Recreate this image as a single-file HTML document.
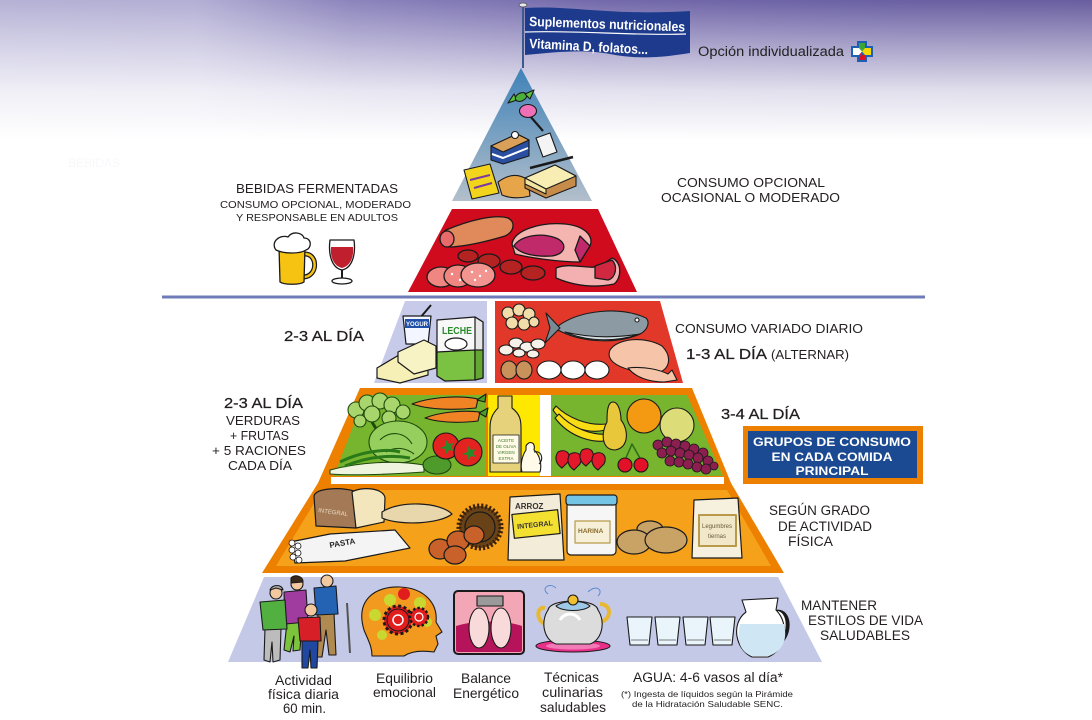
<!DOCTYPE html>
<html><head><meta charset="utf-8">
<style>
html,body{margin:0;padding:0;background:#fff;}
svg{display:block;}
text{font-family:"Liberation Sans",Arial,sans-serif;}
</style></head><body>
<svg width="1092" height="720" viewBox="0 0 1092 720" xmlns="http://www.w3.org/2000/svg">
<defs>
<linearGradient id="bgH" x1="0" x2="1" y1="0" y2="0">
 <stop offset="0" stop-color="#b5b1d5"/>
 <stop offset="0.18" stop-color="#b3aed4"/>
 <stop offset="0.32" stop-color="#8c84bc"/>
 <stop offset="0.55" stop-color="#7369ab"/>
 <stop offset="0.8" stop-color="#6a60a3"/>
 <stop offset="1" stop-color="#695e9f"/>
</linearGradient>
<linearGradient id="bgV" x1="0" x2="0" y1="0" y2="1">
 <stop offset="0" stop-color="#fff" stop-opacity="0"/>
 <stop offset="0.35" stop-color="#fff" stop-opacity="0.45"/>
 <stop offset="0.65" stop-color="#fff" stop-opacity="0.8"/>
 <stop offset="1" stop-color="#fff" stop-opacity="1"/>
</linearGradient>
<linearGradient id="tri" x1="0" x2="0" y1="0" y2="1">
 <stop offset="0" stop-color="#3f82b8"/>
 <stop offset="1" stop-color="#b3bfcb"/>
</linearGradient>
</defs>

<rect width="1092" height="720" fill="#fff"/>
<rect width="1092" height="140" fill="url(#bgH)"/>
<rect width="1092" height="140" fill="url(#bgV)"/>
<text x="68" y="167" font-size="12" fill="#f8f8fb">BEBIDAS</text>

<!-- ===== Pyramid shapes ===== -->
<polygon points="521,68 592,201 452,201" fill="url(#tri)"/>
<polygon points="452,209 598,209 637,292 408,292" fill="#cf0b1d"/>
<line x1="162" y1="297" x2="925" y2="297" stroke="#6f7cb9" stroke-width="3"/>
<polygon points="405,301 487,301 487,383 374,383" fill="#c7cbe9"/>
<polygon points="495,301 660,301 683,383 495,383" fill="#e1382a"/>
<polygon points="360,388 692,388 731,483 318,483" fill="#ee8000"/>
<polygon points="318,483 731,483 784,573 262,573" fill="#ee8000"/>
<rect x="331" y="477" width="393" height="7" fill="#fff"/>
<polygon points="365,395 485,395 485,476 334,476" fill="#77b52f"/>
<rect x="488" y="395" width="52" height="81" fill="#ffe800"/>
<rect x="540" y="395" width="11" height="81" fill="#fff"/>
<polygon points="551,395 687,395 723,476 551,476" fill="#77b52f"/>
<polygon points="322,490 727,490 771,566 276,566" fill="#f6a11a"/>
<polygon points="264,577 778,577 822,662 228,662" fill="#c5c9e8"/>

<!-- ===== Flag ===== -->
<line x1="523" y1="6" x2="523" y2="68" stroke="#3b5b8c" stroke-width="2"/>
<ellipse cx="523" cy="5" rx="4" ry="2" fill="#e8e8f0" stroke="#555" stroke-width="0.8"/>
<path d="M525,8 C570,5 610,16 690,11 L690,53 C665,57 640,60 610,54 C585,49 555,52 525,55 Z" fill="#1d3a8c"/>
<path d="M525,32 C580,30 630,36 686,34" fill="none" stroke="#fff" stroke-width="1.2"/>
<text x="529" y="26" font-size="13.5" font-weight="bold" fill="#fff" textLength="156" lengthAdjust="spacingAndGlyphs" transform="rotate(2 529 26)">Suplementos nutricionales</text>
<text x="529" y="48" font-size="13.5" font-weight="bold" fill="#fff" textLength="119" lengthAdjust="spacingAndGlyphs" transform="rotate(3 529 48)">Vitamina D, folatos...</text>

<text x="698" y="56" font-size="13.5" fill="#222" textLength="146" lengthAdjust="spacingAndGlyphs">Opción individualizada</text>
<!-- cross icon -->
<path d="M857,41 H867 V46 H873 V57 H867 V62 H857 V57 H851 V46 H857 Z" fill="#1d5fb4"/>
<polygon points="859,43 865,43 865,48 862,51.5 859,48" fill="#3aa635"/>
<polygon points="865,48 871,48 871,55 865,55 862,51.5" fill="#f5d800"/>
<polygon points="859,55 865,55 865,60 859,60 862,51.5" fill="#e01020"/>
<polygon points="853,48 859,48 862,51.5 859,55 853,55" fill="#fff"/>

<!-- ===== Sweets ===== -->
<g stroke="#1a1a1a" stroke-width="1.1" stroke-linejoin="round">
 <path d="M508,103 L514,94 L517,100 Z" fill="#5ec23a"/>
 <ellipse cx="521" cy="97" rx="6" ry="4" fill="#4caf3a" transform="rotate(-25 521 97)"/>
 <path d="M525,94 L534,90 L530,99 Z" fill="#5ec23a"/>
 <line x1="530" y1="116" x2="543" y2="131" stroke-width="2.2"/>
 <ellipse cx="528" cy="111" rx="8.5" ry="6.5" fill="#f070b8"/>
 <path d="M491,146 L517,134 L529,140 L529,156 L503,164 L491,160 Z" fill="#2a4fa0"/>
 <path d="M491,146 L517,134 L529,140 L503,152 Z" fill="#d9a05a"/>
 <path d="M492,154 L503,158 L528,148" fill="none" stroke="#fff" stroke-width="2"/>
 <circle cx="515" cy="135" r="3.5" fill="#fff"/>
 <path d="M536,138 L550,133 L557,152 L543,157 Z" fill="#f4f4f4"/>
 <path d="M464,170 L490,164 L499,193 L472,199 Z" fill="#f2d41c"/>
 <path d="M470,180 L490,175 M474,188 L492,183" stroke="#7a3aa0" stroke-width="2"/>
 <path d="M498,182 Q514,170 528,180 L530,196 Q514,200 502,195 Z" fill="#e7a54a"/>
 <path d="M525,178 L555,165 L576,176 L576,186 L546,198 L525,188 Z" fill="#c78c4a"/>
 <path d="M525,178 L555,165 L576,176 L546,189 Z" fill="#f8eeb4"/>
 <path d="M525,178 L546,189 L546,194 L525,184 Z" fill="#f3e4a0"/>
 <line x1="530" y1="168" x2="573" y2="157" stroke-width="2.5"/>
</g>

<!-- ===== Meat ===== -->
<g stroke="#1a1a1a" stroke-width="1.3" stroke-linejoin="round">
 <path d="M446,230 C470,220 495,214 508,218 C516,222 514,232 505,236 C485,242 465,246 452,247 C440,247 438,235 446,230 Z" fill="#e08a5c"/>
 <ellipse cx="447" cy="239" rx="7" ry="8" fill="#e86a6a"/>
 <path d="M512,244 C514,230 540,222 565,224 C585,226 594,236 590,246 L580,262 C560,262 530,258 515,254 Z" fill="#f4b4b0"/>
 <path d="M514,246 C520,236 540,232 556,238 C568,243 566,254 552,256 C535,257 520,254 514,246 Z" fill="#c02a6a"/>
 <path d="M580,236 L590,246 L580,262 L575,250 Z" fill="#c02a6a"/>
 <g fill="#b42222">
  <ellipse cx="468" cy="256" rx="10" ry="6"/>
  <ellipse cx="489" cy="261" rx="11" ry="7"/>
  <ellipse cx="511" cy="267" rx="11" ry="7"/>
  <ellipse cx="533" cy="273" rx="12" ry="7"/>
 </g>
 <ellipse cx="441" cy="277" rx="14" ry="10" fill="#f08682"/>
 <ellipse cx="458" cy="276" rx="14" ry="11" fill="#f08682"/>
 <ellipse cx="478" cy="275" rx="17" ry="12" fill="#f29490"/>
 <path d="M556,268 C570,262 590,270 600,266 L612,258 C622,262 622,278 614,284 C595,288 575,286 556,278 Z" fill="#f4b0b0"/>
 <path d="M595,266 L612,260 C618,266 616,278 608,280 L595,278 Z" fill="#d02840"/>
</g>
<g fill="#fff">
 <circle cx="472" cy="272" r="1.2"/><circle cx="480" cy="276" r="1.2"/><circle cx="486" cy="271" r="1.2"/><circle cx="475" cy="280" r="1.2"/><circle cx="452" cy="274" r="1.2"/><circle cx="460" cy="280" r="1.2"/>
</g>

<!-- ===== Beer & wine ===== -->
<g stroke="#1a1a1a" stroke-width="1.3" stroke-linejoin="round">
 <path d="M305,254 C318,254 318,276 304,277" fill="none" stroke-width="5"/>
 <path d="M305,254 C318,254 318,276 304,277" fill="none" stroke="#f6c312" stroke-width="2.5"/>
 <path d="M279,247 L305,247 L304,282 C300,285 284,285 280,282 Z" fill="#f6c312"/>
 <path d="M276,250 C270,242 280,234 288,237 C292,231 302,232 304,238 C312,238 312,248 306,250 C300,254 284,254 276,250 Z" fill="#fff"/>
 <path d="M330,240 L354,240 C356,255 352,268 342,270 C332,268 328,255 330,240 Z" fill="#fff"/>
 <path d="M331,247 L353,247 C354,258 350,266 342,268 C334,266 330,258 331,247 Z" fill="#c01f2e" stroke="none"/>
 <line x1="342" y1="270" x2="342" y2="280" stroke-width="2"/>
 <ellipse cx="342" cy="281" rx="10" ry="3" fill="#fff"/>
</g>

<!-- ===== Dairy ===== -->
<g stroke="#1a1a1a" stroke-width="1.2" stroke-linejoin="round">
 <line x1="420" y1="318" x2="431" y2="305" stroke-width="2"/>
 <path d="M403,316 L431,316 L428,344 L406,344 Z" fill="#f4f6ff"/>
 <rect x="405" y="319" width="24" height="9" fill="#2050a8" stroke="none"/>
 <path d="M437,320 L475,317 L483,322 L483,378 L445,381 L437,376 Z" fill="#f8f8f8"/>
 <path d="M475,317 L483,322 L483,378 L475,380 Z" fill="#e6e6e6"/>
 <path d="M437,352 L475,350 L475,380 L445,381 L437,376 Z" fill="#7cc242"/>
 <path d="M475,350 L483,350 L483,378 L475,380 Z" fill="#64a832"/>
 <ellipse cx="456" cy="344" rx="11" ry="6" fill="#fff"/>
 <path d="M377,368 L404,352 L428,362 L428,375 L400,383 L377,378 Z" fill="#f6f0b6"/>
 <path d="M398,352 L424,340 L436,346 L436,368 L414,374 L398,362 Z" fill="#f8f3c4"/>
</g>
<text x="406" y="326" font-size="6" font-weight="bold" fill="#fff">YOGUR</text>
<text x="442" y="334" font-size="10" font-weight="bold" fill="#2a8a2a" textLength="30" lengthAdjust="spacingAndGlyphs">LECHE</text>

<!-- ===== Protein ===== -->
<g stroke="#1a1a1a" stroke-width="1.1" stroke-linejoin="round">
 <g fill="#f2dcaa">
  <circle cx="508" cy="313" r="6"/><circle cx="519" cy="310" r="6"/><circle cx="529" cy="314" r="6"/>
  <circle cx="512" cy="323" r="6"/><circle cx="524" cy="324" r="6"/><circle cx="534" cy="322" r="5"/>
 </g>
 <path d="M558,326 C580,310 620,306 646,318 C650,322 648,330 640,334 C615,345 580,342 558,330 Z" fill="#8c9aa4"/>
 <path d="M560,328 L546,313 L550,328 L545,343 Z" fill="#7a8a94"/>
 <path d="M565,332 C590,343 620,341 640,334 C615,338 590,338 565,332 Z" fill="#d6dde2"/>
 <circle cx="637" cy="320" r="2" fill="#fff"/>
 <g fill="#f6f2ea">
  <ellipse cx="506" cy="350" rx="7" ry="5"/><ellipse cx="516" cy="343" rx="7" ry="5"/><ellipse cx="527" cy="347" rx="7" ry="5"/>
  <ellipse cx="538" cy="344" rx="7" ry="5"/><ellipse cx="519" cy="353" rx="6" ry="4"/><ellipse cx="533" cy="354" rx="6" ry="4"/>
 </g>
 <ellipse cx="509" cy="370" rx="8" ry="9" fill="#c8925a"/>
 <ellipse cx="524" cy="370" rx="8" ry="9" fill="#c8925a"/>
 <ellipse cx="549" cy="370" rx="12" ry="9" fill="#fff"/>
 <ellipse cx="573" cy="370" rx="12" ry="9" fill="#fff"/>
 <ellipse cx="597" cy="370" rx="12" ry="9" fill="#fff"/>
 <path d="M610,350 C618,338 645,336 662,346 C672,356 670,368 660,372 L630,370 C616,366 606,360 610,350 Z" fill="#f6c4a8"/>
 <path d="M628,368 C645,366 660,370 668,374 L672,370 L677,380 L664,382 C650,382 636,378 628,368 Z" fill="#f6c4a8"/>
</g>

<!-- ===== Vegetables ===== -->
<g stroke="#1f4a0c" stroke-width="1.1" stroke-linejoin="round">
 <g fill="#a8d66c">
  <circle cx="356" cy="410" r="8"/><circle cx="367" cy="403" r="8"/><circle cx="380" cy="401" r="8"/>
  <circle cx="392" cy="405" r="8"/><circle cx="403" cy="412" r="7"/><circle cx="372" cy="414" r="8"/>
  <circle cx="389" cy="418" r="7"/><circle cx="360" cy="421" r="6"/>
 </g>
 <path d="M372,422 L378,432 M392,424 L386,432" stroke="#1f4a0c" stroke-width="3"/>
 <ellipse cx="398" cy="442" rx="29" ry="21" fill="#96cf5e"/>
 <path d="M380,440 C390,430 405,432 412,444 M386,452 C396,446 406,448 414,454" fill="none"/>
 <path d="M330,470 C360,462 395,460 424,465 L424,472 C395,474 360,476 330,474 Z" fill="#eef4de"/>
 <path d="M340,462 C360,452 385,448 400,452 M345,466 C365,458 388,454 410,458" fill="none" stroke="#2a7a1a" stroke-width="3"/>
 <ellipse cx="437" cy="465" rx="14" ry="9" fill="#4e9a2a"/>
</g>
<g stroke="#1a1a1a" stroke-width="1.1" stroke-linejoin="round">
 <path d="M412,404 C430,397 460,395 478,399 L476,408 C455,410 430,410 412,404 Z" fill="#f08424"/>
 <path d="M425,418 C440,412 462,410 480,412 L478,421 C460,423 440,423 425,418 Z" fill="#f08424"/>
 <path d="M477,400 L486,394 L485,402 Z M479,413 L488,408 L486,417 Z" fill="#4aa028"/>
 <circle cx="446" cy="446" r="13" fill="#e3231f"/>
 <circle cx="468" cy="452" r="14" fill="#e3231f"/>
</g>
<path d="M446,440 l3,4 l5,-1 l-3,4 l3,4 l-5,-1 l-3,4 l-1,-5 l-5,-1 l5,-2 z" fill="#2a8a2a"/>
<path d="M468,446 l3,4 l5,-1 l-3,4 l3,4 l-5,-1 l-3,4 l-1,-5 l-5,-1 l5,-2 z" fill="#2a8a2a"/>

<!-- ===== Olive oil ===== -->
<g stroke="#1a1a1a" stroke-width="1.1" stroke-linejoin="round">
 <path d="M498,396 L512,396 L512,408 C520,414 521,420 521,428 L521,472 L490,472 L490,428 C490,420 492,414 498,408 Z" fill="#e6d27a"/>
 <rect x="493" y="435" width="26" height="28" fill="#fffbe6" stroke-width="0.8"/>
 <path d="M526,446 C529,440 536,442 534,450 C540,455 542,465 540,472 L522,472 C520,465 522,456 526,450 Z" fill="#fffbe8"/>
 <path d="M534,452 C542,450 544,460 539,464" fill="none"/>
</g>
<g font-size="4.5" fill="#3a7a2a" text-anchor="middle">
 <text x="506" y="442">ACEITE</text><text x="506" y="448">DE OLIVA</text><text x="506" y="454">VIRGEN</text><text x="506" y="460">EXTRA</text>
</g>

<!-- ===== Fruits ===== -->
<g stroke="#1a1a1a" stroke-width="1.1" stroke-linejoin="round">
 <path d="M553,410 C565,428 590,434 605,430 L606,424 C588,426 568,418 556,406 Z" fill="#f7dc16"/>
 <path d="M555,418 C570,438 595,444 610,440 L610,434 C592,436 572,428 559,414 Z" fill="#f7dc16"/>
 <path d="M613,402 C619,402 621,414 621,420 C629,430 629,448 615,450 C601,450 601,432 607,422 C607,414 607,402 613,402 Z" fill="#e8c83a"/>
 <circle cx="644" cy="416" r="17" fill="#f39a12"/>
 <circle cx="677" cy="425" r="17" fill="#dcdc78"/>
 <g fill="#e3182a">
  <path d="M558,452 C566,448 572,454 568,462 L562,468 C556,464 554,458 558,452 Z"/>
  <path d="M570,454 C578,450 584,456 580,464 L574,470 C568,466 566,460 570,454 Z"/>
  <path d="M582,450 C590,446 596,452 592,460 L586,466 C580,462 578,456 582,450 Z"/>
  <path d="M594,454 C602,450 608,456 604,464 L598,470 C592,466 590,460 594,454 Z"/>
 </g>
 <path d="M625,460 L632,444 L641,460" fill="none" stroke="#2a6a1a" stroke-width="1.5"/>
 <circle cx="625" cy="465" r="7" fill="#e3102a"/>
 <circle cx="641" cy="465" r="7" fill="#e3102a"/>
 <g fill="#8c1e50" stroke-width="0.8">
  <circle cx="658" cy="445" r="5"/><circle cx="667" cy="442" r="5"/><circle cx="676" cy="444" r="5"/><circle cx="685" cy="446" r="5"/><circle cx="694" cy="449" r="5"/><circle cx="703" cy="453" r="5"/>
  <circle cx="662" cy="453" r="5"/><circle cx="671" cy="451" r="5"/><circle cx="680" cy="453" r="5"/><circle cx="689" cy="455" r="5"/><circle cx="698" cy="458" r="5"/><circle cx="708" cy="461" r="5"/>
  <circle cx="670" cy="461" r="5"/><circle cx="679" cy="462" r="5"/><circle cx="688" cy="464" r="5"/><circle cx="697" cy="467" r="5"/><circle cx="706" cy="469" r="5"/><circle cx="714" cy="466" r="4"/>
 </g>
</g>

<!-- ===== Cereals ===== -->
<g stroke="#1a1a1a" stroke-width="1.2" stroke-linejoin="round">
 <path d="M314,496 C316,488 340,487 354,491 L356,528 L316,526 Z" fill="#a47a56"/>
 <path d="M352,492 C362,486 384,488 385,498 L384,522 L356,528 Z" fill="#f4e6bc"/>
 <path d="M382,512 C400,500 440,502 452,514 C440,524 400,526 382,518 Z" fill="#e8d6ac"/>
 <path d="M290,542 L330,534 L395,530 L410,548 L345,561 L295,563 Z" fill="#f4f4f4"/>
 <g fill="#fff" stroke-width="0.8">
  <circle cx="292" cy="543" r="3"/><circle cx="292" cy="550" r="3"/><circle cx="293" cy="557" r="3"/><circle cx="298" cy="546" r="3"/><circle cx="298" cy="553" r="3"/><circle cx="299" cy="560" r="3"/>
 </g>
 <circle cx="480" cy="527" r="21" fill="#6a4218" stroke="#3a2008" stroke-width="5" stroke-dasharray="2 2"/>
 <circle cx="480" cy="527" r="15" fill="#6a4218"/>
 <ellipse cx="440" cy="549" rx="11" ry="10" fill="#c8622a"/>
 <ellipse cx="458" cy="541" rx="11" ry="10" fill="#c8622a"/>
 <ellipse cx="455" cy="555" rx="11" ry="9" fill="#c8622a"/>
 <ellipse cx="474" cy="535" rx="10" ry="9" fill="#c8622a"/>
 <path d="M510,497 L560,494 L564,560 L508,560 Z" fill="#f3ecd8"/>
 <rect x="513" y="512" width="46" height="24" fill="#f4e030" transform="rotate(-6 536 524)"/>
 <rect x="567" y="498" width="49" height="57" rx="4" fill="#f6f6f6"/>
 <rect x="566" y="495" width="51" height="10" rx="3" fill="#74c4e6"/>
 <rect x="575" y="521" width="35" height="22" fill="#f6f0d8" stroke="#b89a4a"/>
 <ellipse cx="650" cy="529" rx="13" ry="8" fill="#c9a266"/>
 <ellipse cx="634" cy="542" rx="17" ry="12" fill="#c9a266"/>
 <ellipse cx="666" cy="540" rx="21" ry="13" fill="#c9a266"/>
 <path d="M694,500 L738,498 L742,558 L692,558 Z" fill="#f6f0de"/>
 <rect x="699" y="515" width="37" height="31" fill="#f0e8c8" stroke="#b89a4a" stroke-width="2"/>
</g>
<text x="318" y="512" font-size="6" fill="#e8d8c0" transform="rotate(8 318 512)">INTEGRAL</text>
<text x="330" y="548" font-size="8" font-weight="bold" fill="#222" transform="rotate(-10 330 548)">PASTA</text>
<text x="517" y="527" font-size="7" font-weight="bold" fill="#333" transform="rotate(-6 536 524)">INTEGRAL</text>
<text x="515" y="509" font-size="8" font-weight="bold" fill="#333">ARROZ</text>
<text x="578" y="533" font-size="6.5" font-weight="bold" fill="#8a6a2a">HARINA</text>
<text x="702" y="528" font-size="6" fill="#6a5a3a">Legumbres</text>
<text x="708" y="538" font-size="6" fill="#6a5a3a">tiernas</text>

<!-- ===== Lifestyle ===== -->
<g stroke="#1a1a1a" stroke-width="1.1" stroke-linejoin="round">
 <line x1="347" y1="603" x2="350" y2="653" stroke="#555" stroke-width="2"/>
 <path d="M318,613 L334,613 L336,655 L329,655 L326,630 L322,657 L316,657 Z" fill="#b08a50"/>
 <path d="M314,588 L336,586 L338,614 L316,615 Z" fill="#2463b3"/>
 <circle cx="327" cy="581" r="6" fill="#f2c8a0"/>
 <path d="M287,622 L302,622 L300,650 L293,651 L294,636 L290,652 L284,650 Z" fill="#7cc43a"/>
 <path d="M284,592 L306,590 L308,622 L285,624 Z" fill="#a03ca0"/>
 <circle cx="297" cy="584" r="6" fill="#f2c8a0"/>
 <path d="M291,578 C295,574 303,576 303,582 L291,583 Z" fill="#3a2a1a"/>
 <path d="M265,628 L281,628 L280,660 L273,662 L272,642 L270,662 L264,660 Z" fill="#bcbcbc"/>
 <path d="M260,602 L285,600 L287,629 L263,630 Z" fill="#52b040"/>
 <circle cx="276" cy="593" r="6" fill="#f2c8a0"/>
 <path d="M270,590 C272,584 282,584 283,590 L276,588 Z" fill="#aaa"/>
 <path d="M302,640 L318,640 L317,668 L311,668 L310,650 L308,668 L302,668 Z" fill="#2048a0"/>
 <path d="M298,618 L320,617 L321,641 L300,641 Z" fill="#d61f26"/>
 <circle cx="311" cy="610" r="6" fill="#f2c8a0"/>
 <path d="M364,630 C355,600 375,586 400,587 C425,588 438,604 436,622 L442,632 L436,636 L438,644 L434,652 C420,650 410,652 404,656 L372,656 C372,646 368,640 364,630 Z" fill="#f29a20"/>
 <g fill="#c8d830" stroke="none"><circle cx="375" cy="615" r="6"/><circle cx="390" cy="600" r="6"/><circle cx="420" cy="603" r="6"/><circle cx="427" cy="622" r="5"/><circle cx="382" cy="635" r="5"/></g>
 <circle cx="398" cy="620" r="14" fill="#e21d1d" stroke-width="3" stroke-dasharray="3 2.5"/>
 <circle cx="398" cy="620" r="11" fill="#e21d1d"/>
 <circle cx="398" cy="620" r="5" fill="none" stroke="#fff" stroke-width="1.5"/>
 <circle cx="419" cy="617" r="9" fill="#e21d1d" stroke-width="2.5" stroke-dasharray="2.5 2"/>
 <circle cx="419" cy="617" r="4" fill="none" stroke="#fff" stroke-width="1.2"/>
 <circle cx="404" cy="594" r="6" fill="#e21d1d" stroke="none"/>
 <rect x="454" y="591" width="70" height="63" rx="4" fill="#f3a6b6" stroke-width="2"/>
 <path d="M456,626 C475,620 505,620 522,626 L522,650 C522,652 520,652 518,652 L460,652 C458,652 456,652 456,650 Z" fill="#b5135a" stroke="none"/>
 <rect x="477" y="596" width="26" height="10" fill="#9a9a9a"/>
 <ellipse cx="479" cy="628" rx="10" ry="20" fill="#f8dada"/>
 <ellipse cx="501" cy="628" rx="10" ry="20" fill="#f8dada"/>
 <ellipse cx="573" cy="646" rx="37" ry="6" fill="#e8308a"/>
 <ellipse cx="573" cy="646" rx="27" ry="3.5" fill="#f27ab6" stroke="none"/>
 <path d="M545,608 C536,606 536,622 546,624" fill="none" stroke="#e8b830" stroke-width="4"/>
 <path d="M600,604 C612,604 612,620 600,622" fill="none" stroke="#e8b830" stroke-width="4"/>
 <path d="M548,610 C550,598 596,598 598,610 C606,622 602,640 590,644 L556,644 C544,640 540,622 548,610 Z" fill="#dcdcdc"/>
 <path d="M556,606 C564,600 584,600 590,606 C584,612 562,612 556,606 Z" fill="#9ec8e8"/>
 <circle cx="573" cy="600" r="5" fill="#f0c030"/>
 <path d="M560,620 C565,612 575,612 580,620" fill="none" stroke="#fff" stroke-width="3"/>
 <path d="M548,594 C540,588 550,582 556,588 M588,592 C596,584 604,590 598,596" fill="none" stroke="#5a8ad0" stroke-width="1"/>
 <g fill="#eaf5fb">
  <path d="M627,617 L652,617 L649,645 L630,645 Z"/>
  <path d="M655,617 L680,617 L677,645 L658,645 Z"/>
  <path d="M683,617 L708,617 L705,645 L686,645 Z"/>
  <path d="M710,617 L735,617 L732,645 L713,645 Z"/>
 </g>
 <g stroke="#555" stroke-width="0.8"><line x1="631" y1="640" x2="648" y2="640"/><line x1="659" y1="640" x2="676" y2="640"/><line x1="687" y1="640" x2="704" y2="640"/><line x1="714" y1="640" x2="731" y2="640"/></g>
 <path d="M775,612 C792,608 792,640 774,646" fill="none" stroke-width="4"/>
 <path d="M775,612 C788,610 788,638 774,644" fill="none" stroke="#fff" stroke-width="2"/>
 <path d="M742,600 L778,598 L776,610 C790,624 786,650 768,657 L752,657 C736,650 730,624 746,612 Z" fill="#fff"/>
 <path d="M740,624 L784,624 C788,640 782,652 768,656 L752,656 C740,652 736,640 740,624 Z" fill="#cfe6f5" stroke="none"/>
</g>

<!-- ===== Text labels ===== -->
<g fill="#231f20">
 <text x="236" y="193" font-size="12.5" textLength="162" lengthAdjust="spacingAndGlyphs">BEBIDAS FERMENTADAS</text>
 <text x="220" y="208" font-size="10.5" textLength="191" lengthAdjust="spacingAndGlyphs">CONSUMO OPCIONAL, MODERADO</text>
 <text x="236" y="221" font-size="10.5" textLength="162" lengthAdjust="spacingAndGlyphs">Y RESPONSABLE EN ADULTOS</text>
 <text x="677" y="187" font-size="13" textLength="148" lengthAdjust="spacingAndGlyphs">CONSUMO OPCIONAL</text>
 <text x="661" y="202" font-size="13" textLength="179" lengthAdjust="spacingAndGlyphs">OCASIONAL O MODERADO</text>
 <text x="675" y="333" font-size="13" textLength="188" lengthAdjust="spacingAndGlyphs">CONSUMO VARIADO DIARIO</text>
 <g stroke="#231f20" stroke-width="0.25">
  <text x="284" y="341" font-size="14.5" textLength="80" lengthAdjust="spacingAndGlyphs">2-3  AL DÍA</text>
  <text x="686" y="359" font-size="14.5" textLength="81" lengthAdjust="spacingAndGlyphs">1-3  AL DÍA</text>
  <text x="224" y="408" font-size="14.5" textLength="79" lengthAdjust="spacingAndGlyphs">2-3  AL DÍA</text>
  <text x="721" y="419" font-size="14.5" textLength="79" lengthAdjust="spacingAndGlyphs">3-4  AL DÍA</text>
 </g>
 <text x="771" y="359" font-size="12.5" textLength="78" lengthAdjust="spacingAndGlyphs">(ALTERNAR)</text>
 <text x="226" y="425" font-size="13" textLength="74" lengthAdjust="spacingAndGlyphs">VERDURAS</text>
 <text x="230" y="440" font-size="13" textLength="59" lengthAdjust="spacingAndGlyphs">+ FRUTAS</text>
 <text x="212" y="455" font-size="13" textLength="94" lengthAdjust="spacingAndGlyphs">+ 5 RACIONES</text>
 <text x="228" y="470" font-size="13" textLength="64" lengthAdjust="spacingAndGlyphs">CADA DÍA</text>
 <text x="769" y="515" font-size="13.5" textLength="101" lengthAdjust="spacingAndGlyphs">SEGÚN GRADO</text>
 <text x="778" y="531" font-size="13.5" textLength="94" lengthAdjust="spacingAndGlyphs">DE ACTIVIDAD</text>
 <text x="788" y="546" font-size="13.5" textLength="45" lengthAdjust="spacingAndGlyphs">FÍSICA</text>
 <text x="801" y="610" font-size="13.5" textLength="76" lengthAdjust="spacingAndGlyphs">MANTENER</text>
 <text x="808" y="625" font-size="13.5" textLength="115" lengthAdjust="spacingAndGlyphs">ESTILOS DE VIDA</text>
 <text x="820" y="640" font-size="13.5" textLength="90" lengthAdjust="spacingAndGlyphs">SALUDABLES</text>

 <text x="275" y="685" font-size="14" textLength="57" lengthAdjust="spacingAndGlyphs">Actividad</text>
 <text x="268" y="699" font-size="14" textLength="71" lengthAdjust="spacingAndGlyphs">física diaria</text>
 <text x="283" y="713" font-size="14" textLength="43" lengthAdjust="spacingAndGlyphs">60 min.</text>
 <text x="376" y="683" font-size="14" textLength="57" lengthAdjust="spacingAndGlyphs">Equilibrio</text>
 <text x="373" y="697" font-size="14" textLength="63" lengthAdjust="spacingAndGlyphs">emocional</text>
 <text x="461" y="683" font-size="14" textLength="50" lengthAdjust="spacingAndGlyphs">Balance</text>
 <text x="453" y="698" font-size="14" textLength="66" lengthAdjust="spacingAndGlyphs">Energético</text>
 <text x="544" y="682" font-size="14" textLength="55" lengthAdjust="spacingAndGlyphs">Técnicas</text>
 <text x="542" y="697" font-size="14" textLength="61" lengthAdjust="spacingAndGlyphs">culinarias</text>
 <text x="540" y="712" font-size="14" textLength="66" lengthAdjust="spacingAndGlyphs">saludables</text>
 <text x="633" y="682" font-size="13.5" textLength="150" lengthAdjust="spacingAndGlyphs">AGUA: 4-6 vasos al día*</text>
 <text x="621" y="697" font-size="8.5" textLength="172" lengthAdjust="spacingAndGlyphs">(*) Ingesta de líquidos según la Pirámide</text>
 <text x="632" y="707" font-size="8.5" textLength="151" lengthAdjust="spacingAndGlyphs">de la Hidratación Saludable SENC.</text>
</g>

<!-- ===== Blue box ===== -->
<rect x="743" y="426" width="180" height="58" fill="#ee8000"/>
<rect x="748" y="431" width="169" height="47" fill="#1b4a93"/>
<g fill="#fff" font-size="12" font-weight="bold" text-anchor="middle">
 <text x="832" y="446" textLength="158" lengthAdjust="spacingAndGlyphs">GRUPOS DE CONSUMO</text>
 <text x="832" y="461" textLength="121" lengthAdjust="spacingAndGlyphs">EN CADA COMIDA</text>
 <text x="832" y="475" textLength="73" lengthAdjust="spacingAndGlyphs">PRINCIPAL</text>
</g>
</svg>
</body></html>
